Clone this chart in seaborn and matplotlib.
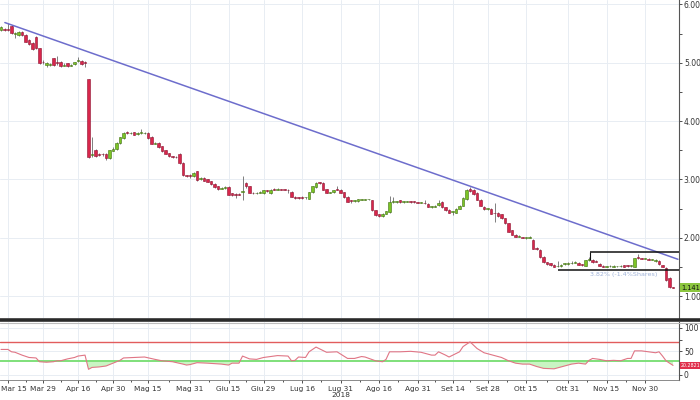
import numpy as np
import pandas as pd
import matplotlib
matplotlib.use("Agg")
import matplotlib.pyplot as plt
import matplotlib.transforms as mtransforms
from matplotlib.lines import Line2D
import seaborn as sns

# ---------------- data ----------------
holidays = ["2018-03-30", "2018-04-02", "2018-05-01", "2018-08-15"]
first_day = "2018-03-13"
last_day = "2018-12-12"

opens = [5.56, 5.58, 5.57, 5.63, 5.49, 5.47, 5.53, 5.48, 5.39, 5.34,
         5.44, 5.25, 5.02, 4.97, 4.97, 5.08, 5.01, 5.01, 4.95, 4.99,
         4.95, 4.98, 5.03, 5.03, 5.01, 4.72, 3.42, 3.50, 3.43, 3.44,
         3.43, 3.36, 3.49, 3.52, 3.62, 3.71, 3.82, 3.79, 3.81, 3.78,
         3.79, 3.79, 3.80, 3.73, 3.61, 3.63, 3.57, 3.50, 3.45, 3.40,
         3.39, 3.43, 3.28, 3.07, 3.07, 3.05, 3.14, 3.00, 3.03, 3.00,
         2.97, 2.92, 2.88, 2.84, 2.85, 2.87, 2.76, 2.75, 2.75, 2.78,
         2.93, 2.88, 2.77, 2.76, 2.77, 2.76, 2.81, 2.76, 2.83, 2.82,
         2.83, 2.83, 2.82, 2.79, 2.70, 2.69, 2.70, 2.69, 2.67, 2.78,
         2.87, 2.95, 2.94, 2.83, 2.77, 2.78, 2.83, 2.82, 2.78, 2.70,
         2.64, 2.63, 2.63, 2.65, 2.65, 2.66, 2.64, 2.47, 2.40, 2.37,
         2.41, 2.44, 2.62, 2.61, 2.64, 2.61, 2.62, 2.62, 2.62, 2.61,
         2.60, 2.60, 2.58, 2.53, 2.53, 2.56, 2.62, 2.52, 2.48, 2.44,
         2.43, 2.50, 2.55, 2.66, 2.84, 2.82, 2.77, 2.65, 2.53, 2.49,
         2.50, 2.43, 2.43, 2.40, 2.33, 2.25, 2.13, 2.05, 2.02, 2.01,
         2.00, 2.00, 1.96, 1.82, 1.79, 1.67, 1.58, 1.56, 1.54, 1.51,
         1.51, 1.55, 1.55, 1.56, 1.57, 1.57, 1.54, 1.52, 1.62, 1.62,
         1.60, 1.55, 1.52, 1.50, 1.51, 1.50, 1.51, 1.51, 1.53, 1.53,
         1.52, 1.50, 1.67, 1.65, 1.64, 1.64, 1.62, 1.60, 1.60, 1.53,
         1.48, 1.31, 1.15]
highs = [5.63, 5.60, 5.68, 5.65, 5.53, 5.55, 5.55, 5.50, 5.40, 5.35,
         5.46, 5.26, 5.04, 5.01, 5.00, 5.09, 5.12, 5.03, 4.99, 5.00,
         4.98, 5.02, 5.10, 5.05, 5.03, 4.72, 3.73, 3.52, 3.45, 3.46,
         3.45, 3.51, 3.55, 3.64, 3.73, 3.82, 3.83, 3.82, 3.82, 3.81,
         3.86, 3.82, 3.81, 3.74, 3.65, 3.64, 3.58, 3.51, 3.46, 3.41,
         3.40, 3.46, 3.29, 3.08, 3.09, 3.12, 3.15, 3.04, 3.04, 3.01,
         2.98, 2.93, 2.89, 2.87, 2.88, 2.88, 2.77, 2.76, 2.76, 3.06,
         2.95, 2.89, 2.78, 2.79, 2.80, 2.82, 2.82, 2.84, 2.85, 2.85,
         2.84, 2.84, 2.83, 2.80, 2.71, 2.70, 2.71, 2.70, 2.79, 2.89,
         2.96, 2.96, 2.95, 2.84, 2.79, 2.82, 2.89, 2.83, 2.79, 2.71,
         2.65, 2.64, 2.67, 2.67, 2.67, 2.67, 2.65, 2.48, 2.41, 2.42,
         2.46, 2.71, 2.70, 2.63, 2.65, 2.63, 2.63, 2.63, 2.63, 2.62,
         2.61, 2.64, 2.59, 2.54, 2.56, 2.64, 2.63, 2.53, 2.49, 2.46,
         2.51, 2.56, 2.69, 2.84, 2.87, 2.83, 2.78, 2.66, 2.54, 2.51,
         2.51, 2.60, 2.44, 2.41, 2.34, 2.26, 2.14, 2.06, 2.05, 2.02,
         2.02, 2.03, 1.98, 1.84, 1.80, 1.68, 1.59, 1.57, 1.55, 1.60,
         1.55, 1.57, 1.58, 1.60, 1.60, 1.58, 1.55, 1.62, 1.67, 1.63,
         1.61, 1.56, 1.53, 1.52, 1.53, 1.53, 1.52, 1.53, 1.54, 1.54,
         1.53, 1.66, 1.72, 1.66, 1.65, 1.65, 1.63, 1.63, 1.61, 1.54,
         1.49, 1.32, 1.16]
lows = [5.54, 5.55, 5.54, 5.49, 5.43, 5.46, 5.46, 5.35, 5.30, 5.22,
        5.23, 4.98, 4.98, 4.93, 4.94, 4.94, 4.97, 4.92, 4.94, 4.93,
        4.94, 4.97, 5.01, 4.97, 4.93, 3.37, 3.38, 3.38, 3.40, 3.41,
        3.33, 3.35, 3.48, 3.51, 3.61, 3.70, 3.78, 3.78, 3.76, 3.77,
        3.78, 3.78, 3.70, 3.60, 3.60, 3.54, 3.47, 3.43, 3.38, 3.37,
        3.36, 3.27, 3.05, 3.04, 3.02, 3.04, 2.98, 2.99, 2.97, 2.95,
        2.91, 2.86, 2.82, 2.83, 2.84, 2.73, 2.72, 2.68, 2.73, 2.65,
        2.86, 2.76, 2.75, 2.75, 2.76, 2.75, 2.79, 2.75, 2.81, 2.81,
        2.81, 2.81, 2.77, 2.69, 2.67, 2.66, 2.67, 2.67, 2.66, 2.77,
        2.86, 2.92, 2.81, 2.76, 2.76, 2.77, 2.81, 2.76, 2.68, 2.61,
        2.60, 2.61, 2.62, 2.64, 2.64, 2.65, 2.46, 2.38, 2.36, 2.36,
        2.40, 2.43, 2.60, 2.60, 2.60, 2.60, 2.61, 2.60, 2.60, 2.59,
        2.59, 2.58, 2.52, 2.51, 2.52, 2.55, 2.51, 2.46, 2.42, 2.39,
        2.42, 2.49, 2.54, 2.65, 2.79, 2.74, 2.64, 2.54, 2.48, 2.48,
        2.40, 2.27, 2.36, 2.32, 2.24, 2.09, 2.04, 2.01, 2.01, 1.99,
        1.98, 1.99, 1.80, 1.79, 1.66, 1.57, 1.54, 1.52, 1.49, 1.49,
        1.50, 1.54, 1.54, 1.55, 1.56, 1.53, 1.52, 1.51, 1.60, 1.57,
        1.58, 1.51, 1.49, 1.49, 1.50, 1.49, 1.50, 1.50, 1.49, 1.50,
        1.50, 1.49, 1.64, 1.63, 1.63, 1.61, 1.61, 1.59, 1.54, 1.49,
        1.26, 1.14, 1.13]
closes = [5.61, 5.57, 5.56, 5.51, 5.51, 5.53, 5.47, 5.36, 5.32, 5.24,
          5.25, 5.00, 5.01, 4.99, 4.98, 4.96, 5.00, 4.94, 4.97, 4.94,
          4.96, 5.01, 5.04, 4.98, 5.00, 3.39, 3.43, 3.40, 3.42, 3.43,
          3.36, 3.50, 3.52, 3.62, 3.72, 3.80, 3.80, 3.80, 3.77, 3.79,
          3.81, 3.80, 3.71, 3.61, 3.63, 3.55, 3.48, 3.44, 3.40, 3.39,
          3.38, 3.28, 3.07, 3.06, 3.05, 3.11, 2.99, 3.02, 2.98, 2.96,
          2.92, 2.87, 2.83, 2.86, 2.86, 2.74, 2.73, 2.74, 2.74, 2.80,
          2.88, 2.77, 2.76, 2.77, 2.78, 2.81, 2.80, 2.82, 2.82, 2.83,
          2.82, 2.82, 2.81, 2.70, 2.68, 2.68, 2.68, 2.69, 2.78, 2.88,
          2.94, 2.93, 2.82, 2.77, 2.78, 2.81, 2.82, 2.77, 2.69, 2.62,
          2.63, 2.63, 2.66, 2.66, 2.66, 2.66, 2.47, 2.39, 2.37, 2.41,
          2.45, 2.61, 2.62, 2.62, 2.61, 2.62, 2.62, 2.61, 2.61, 2.60,
          2.60, 2.59, 2.53, 2.53, 2.55, 2.60, 2.52, 2.47, 2.43, 2.45,
          2.50, 2.55, 2.68, 2.82, 2.80, 2.75, 2.65, 2.55, 2.49, 2.50,
          2.41, 2.42, 2.37, 2.33, 2.25, 2.10, 2.05, 2.02, 2.03, 2.00,
          2.00, 2.01, 1.81, 1.81, 1.67, 1.58, 1.55, 1.53, 1.50, 1.51,
          1.54, 1.55, 1.56, 1.57, 1.58, 1.54, 1.53, 1.61, 1.62, 1.58,
          1.59, 1.52, 1.50, 1.51, 1.51, 1.52, 1.51, 1.52, 1.50, 1.51,
          1.52, 1.65, 1.65, 1.64, 1.64, 1.62, 1.62, 1.62, 1.55, 1.50,
          1.27, 1.15, 1.141]

# RSI(14) read at sampled trading days (index into the trading calendar)
rsi_day = [0, 2, 3, 4, 6, 8, 10, 11, 13, 15, 16, 17, 19, 21, 22, 24, 25, 26,
           28, 30, 32, 34, 35, 38, 41, 44, 46, 49, 52, 53, 54, 56, 59, 63, 65,
           66, 68, 69, 71, 73, 75, 79, 82, 83, 84, 85, 87, 88, 90, 93, 96, 99,
           101, 103, 104, 107, 109, 110, 111, 114, 117, 120, 123, 124, 125,
           127, 128, 131, 132, 134, 136, 138, 140, 142, 143, 145, 147, 149,
           151, 153, 155, 158, 160, 162, 163, 165, 167, 168, 169, 171, 173,
           175, 177, 179, 180, 181, 183, 185, 187, 188, 189, 190, 191, 192]
rsi_val = [54, 54, 49, 48, 42, 37, 36, 28, 27, 28, 30, 30, 34, 37, 40, 42, 12,
           16, 17, 19, 25, 31, 36, 37, 38, 33, 30, 28, 23, 21, 22, 26, 25, 23,
           21, 25, 25, 40, 34, 33, 37, 41, 40, 30, 31, 38, 37, 49, 59, 48, 49,
           35, 35, 39, 38, 30, 28, 33, 49, 49, 50, 48, 42, 42, 49, 42, 38, 49,
           60, 70, 56, 47, 43, 39, 37, 30, 25, 23, 23, 18, 14, 13, 17, 21, 23,
           25, 23, 31, 35, 33, 30, 31, 30, 35, 35, 51, 51, 49, 47, 49, 40, 30,
           25, 20.2821]

# trend line (day, price) anchors
trend_day = [1.1, 193.4]
trend_price = [5.69, 1.63]

# consolidation box levels
box_top_price = 1.75
box_top_from_day = 168.3
box_low_price = 1.446
box_low_from_day = 159.0

tick_dates = ["2018-03-15", "2018-03-29", "2018-04-16", "2018-04-30",
              "2018-05-15", "2018-05-31", "2018-06-15", "2018-06-29",
              "2018-07-16", "2018-07-31", "2018-08-16", "2018-08-31",
              "2018-09-14", "2018-09-28", "2018-10-15", "2018-10-31",
              "2018-11-15", "2018-11-30"]
month_it = ["Gen", "Feb", "Mar", "Apr", "Mag", "Giu", "Lug", "Ago", "Set",
            "Ott", "Nov", "Dic"]
year_label_date = "2018-07-31"
year_label = "2018"

price_ticks = [1, 2, 3, 4, 5, 6]
rsi_ticks = [0, 50, 100]
last_price_text = "1.141"
last_rsi_text = "20.2821"
box_note = "3.82% (-1.4%Shares)"

# ---------------- style ----------------
sns.set_theme(style="white")
plt.rcParams["font.family"] = ["DejaVu Sans"]

GREEN = "#7cc424"
GREEN_EDGE = "#3f6e12"
RED = "#d8264b"
RED_EDGE = "#8c1230"
GRID = "#e8edf3"
TXT = "#333333"

dates = pd.bdate_range(first_day, last_day, freq="C", holidays=holidays)
x = np.arange(len(dates))
o = np.array(opens); h = np.array(highs); l = np.array(lows); c = np.array(closes)

fig = plt.figure(figsize=(7, 4), dpi=100)
W, H = 700.0, 400.0
ax = fig.add_axes([0, 1 - 318 / H, 679 / W, 318 / H])
ax2 = fig.add_axes([0, 1 - 380 / H, 679 / W, 58 / H], sharex=ax)

xmin, xmax = -0.29, 193.7
ax.set_xlim(xmin, xmax)
ax.set_ylim(0.623, 6.077)
ax2.set_ylim(-10.6, 112)

tick_pos = dates.get_indexer(pd.to_datetime(tick_dates))
tick_lab = []
for d in pd.to_datetime(tick_dates):
    s = f"{month_it[d.month - 1]} {d.day}"
    if d == pd.Timestamp(year_label_date):
        s += "\n" + year_label
    tick_lab.append(s)

# grid
for a in (ax, ax2):
    for p in tick_pos:
        a.axvline(p, color=GRID, lw=0.7, zorder=0)
for yv in price_ticks:
    ax.axhline(yv, color=GRID, lw=0.7, zorder=0)
for yv in rsi_ticks:
    ax2.axhline(yv, color=GRID, lw=0.7, zorder=0)

# candles
up = c >= o
body_bottom = np.minimum(o, c)
body_h = np.maximum(np.abs(c - o), 0.012)
ax.vlines(x, l, h, color="#6a6a6a", lw=0.6, zorder=2)
ax.bar(x[up], body_h[up], bottom=body_bottom[up], width=0.72,
       color=GREEN, edgecolor=GREEN_EDGE, linewidth=0.4, zorder=3)
ax.bar(x[~up], body_h[~up], bottom=body_bottom[~up], width=0.72,
       color=RED, edgecolor=RED_EDGE, linewidth=0.4, zorder=3)

# trend line
sns.lineplot(x=trend_day, y=trend_price, ax=ax, color="#6d6dcc", lw=1.1,
             zorder=4, legend=False)

# consolidation lines
ax.hlines(box_top_price, box_top_from_day, xmax, color="#111111", lw=1.1, zorder=5)
ax.vlines(box_top_from_day, 1.62, box_top_price, color="#111111", lw=0.8, zorder=5)
ax.hlines(box_low_price, box_low_from_day, xmax, color="#111111", lw=1.1, zorder=5)
ax.text(178, box_low_price - 0.035, box_note, fontsize=4.6, color="#9fb2d8",
        ha="center", va="top", zorder=6)

# RSI panel
rd = np.array(rsi_day); rv = np.array(rsi_val, dtype=float)
ax2.axhline(70, color="#e25c5c", lw=1.0, zorder=2)
ax2.axhline(30, color="#7fe07a", lw=1.4, zorder=2)
ax2.fill_between(rd, rv, 30, where=rv < 30, interpolate=True,
                 color="#c9f4c3", lw=0, zorder=1)
sns.lineplot(x=rd, y=rv, ax=ax2, color="#e07585", lw=0.8, zorder=3,
             legend=False)

# axes cosmetics
for a in (ax, ax2):
    a.set_xlabel(""); a.set_ylabel("")
    a.set_facecolor("white")
    for s in ("left", "top"):
        a.spines[s].set_visible(False)
    a.spines["right"].set_color("#555555")
    a.spines["right"].set_linewidth(0.8)
    a.yaxis.tick_right()
    a.tick_params(axis="y", which="both", right=True, left=False,
                  direction="out", length=2, width=0.6, colors=TXT,
                  labelsize=5.5, pad=1.5)
    a.grid(False)
ax.spines["bottom"].set_visible(False)
ax.tick_params(axis="x", bottom=False, labelbottom=False)

ax.set_yticks(price_ticks)
ax.set_yticklabels([f"{v:.2f}" for v in price_ticks])
ax.set_yticks(np.arange(1.5, 6.0, 1.0), minor=True)
ax2.set_yticks(rsi_ticks)
ax2.set_yticklabels([str(v) for v in rsi_ticks])
ax2.set_yticks([25, 75], minor=True)

ax2.spines["bottom"].set_color("#777777")
ax2.spines["bottom"].set_linewidth(0.6)
ax2.set_xticks(tick_pos)
ax2.set_xticklabels(tick_lab, fontsize=5.3, color=TXT, va="top",
                    linespacing=1.1)
ax2.tick_params(axis="x", which="both", bottom=True, direction="out",
                length=2, width=0.6, colors=TXT, pad=2)
mid = (tick_pos[:-1] + tick_pos[1:]) / 2
ax2.set_xticks(mid, minor=True)
ax2.tick_params(axis="x", which="minor", length=1.5)
# keep the first date label inside the figure (shifted right as in the source)
first_lab = ax2.get_xticklabels()[0]
first_lab.set_transform(first_lab.get_transform() +
                        mtransforms.ScaledTranslation(5.5 / 100, 0, fig.dpi_scale_trans))

# value tags on the right axis
trans = mtransforms.blended_transform_factory(ax.transAxes, ax.transData)
ax.text(1.003, closes[-1], last_price_text, transform=trans, fontsize=4.8,
        color="#111111", ha="left", va="center", clip_on=False, zorder=10,
        bbox=dict(boxstyle="square,pad=0.2", fc="#8cc63f", ec="none"))
trans2 = mtransforms.blended_transform_factory(ax2.transAxes, ax2.transData)
ax2.text(1.002, rsi_val[-1], last_rsi_text, transform=trans2, fontsize=3.4,
         color="white", ha="left", va="center", clip_on=False, zorder=10,
         bbox=dict(boxstyle="square,pad=0.15", fc="#e0304c", ec="none"))

# panel separator
fig.add_artist(Line2D([0, 1], [1 - 320 / H] * 2, transform=fig.transFigure,
                      color="#2a2a2a", lw=2.6))
fig.add_artist(Line2D([0, 1], [1 - 322.5 / H] * 2, transform=fig.transFigure,
                      color="#bdbdbd", lw=0.8))

fig.savefig("out.png", dpi=100, facecolor="white")
